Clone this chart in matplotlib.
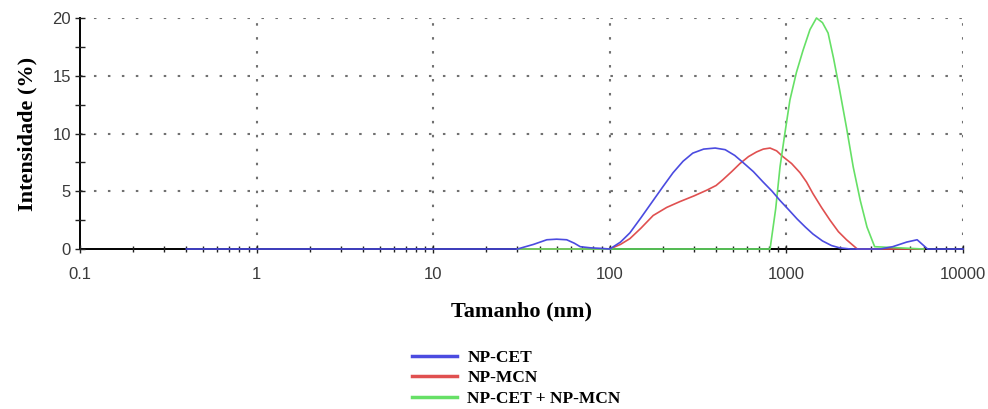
import matplotlib
matplotlib.use("Agg")
import matplotlib.pyplot as plt
from matplotlib.ticker import FixedLocator, FixedFormatter, NullFormatter
from matplotlib.lines import Line2D

# ---- data ----
series_names = ["NP-CET", "NP-MCN", "NP-CET + NP-MCN"]

cet_x = [0.4, 30, 37, 44, 50, 57, 63, 68, 78, 90, 100, 115, 130, 150, 176, 200, 228, 260, 295, 340,
         395, 450, 510, 567, 650, 738, 830, 920, 1030, 1150, 1280, 1413, 1600, 1800, 2000, 2300,
         3400, 4000, 4800, 5500, 6300, 10000]
cet_y = [0, 0, 0.4, 0.8, 0.85, 0.8, 0.5, 0.2, 0.1, 0.05, 0, 0.6, 1.4, 2.7, 4.2, 5.4, 6.6, 7.6, 8.3, 8.65,
         8.74, 8.6, 8.1, 7.5, 6.7, 5.8, 5.0, 4.2, 3.4, 2.6, 1.9, 1.3, 0.7, 0.3, 0.1, 0,
         0, 0.2, 0.6, 0.8, 0, 0]

mcn_x = [30, 100, 115, 130, 150, 176, 210, 249, 300, 355, 400, 437, 490, 546, 610, 677, 740, 808,
         880, 955, 1070, 1195, 1300, 1413, 1580, 1765, 1970, 2190, 2520, 6000]
mcn_y = [0, 0, 0.4, 0.9, 1.8, 2.9, 3.6, 4.1, 4.6, 5.1, 5.5, 6.0, 6.7, 7.4, 8.0, 8.4, 8.65, 8.74,
         8.5, 8.0, 7.4, 6.6, 5.8, 4.8, 3.6, 2.5, 1.5, 0.8, 0, 0]

mix_x = [30, 100, 808, 870, 920, 980, 1047, 1140, 1242, 1360, 1480, 1600, 1722, 1850, 2000, 2190,
         2390, 2620, 2860, 3160, 6000]
mix_y = [0, 0, 0, 3.5, 7.1, 10.0, 12.9, 15.3, 17.2, 19.0, 20.0, 19.6, 18.7, 16.5, 13.8, 10.5,
         7.1, 4.2, 1.9, 0.2, 0]

x_major = [0.1, 1, 10, 100, 1000, 10000]
x_labels = ["0.1", "1", "10", "100", "1000", "10000"]
y_major = [0, 5, 10, 15, 20]
y_minor = [2.5, 7.5, 12.5, 17.5]

colors = ["#4b4be0", "#e05050", "#66e066"]

# ---- figure ----
fig = plt.figure(figsize=(9.88, 4.09), dpi=100)
ax = fig.add_axes([80/988, 1-249/409, (963-80)/988, (249-18)/409])

ax.set_xscale("log")
ax.set_xlim(0.1, 10000)
ax.set_ylim(0, 20)

# grid
grid_style = dict(color="#707070", lw=1.5, ls=(0, (1.2, 5.5)), zorder=0.5)
for xv in x_major[1:]:
    ax.axvline(xv, **grid_style)
for yv in y_major[1:]:
    ax.axhline(yv, **grid_style)

ax.plot(mcn_x, mcn_y, color=colors[1], lw=1.2, zorder=3, clip_on=False)
ax.plot(mix_x, mix_y, color=colors[2], lw=1.2, zorder=3.1, clip_on=False)
ax.plot(cet_x, cet_y, color=colors[0], lw=1.2, zorder=3.2, clip_on=False)

for s in ["top", "right"]:
    ax.spines[s].set_visible(False)
ax.spines["left"].set_linewidth(1.4)
ax.spines["bottom"].set_linewidth(1.4)
ax.spines["bottom"].set_zorder(1)

ax.xaxis.set_major_locator(FixedLocator(x_major))
ax.xaxis.set_major_formatter(FixedFormatter(x_labels))
minors = [m * 10.0**e for e in range(-1, 4) for m in range(2, 10)]
ax.xaxis.set_minor_locator(FixedLocator(minors))
ax.xaxis.set_minor_formatter(NullFormatter())
ax.yaxis.set_major_locator(FixedLocator(y_major))
ax.yaxis.set_minor_locator(FixedLocator(y_minor))

ax.tick_params(which="both", direction="inout", color="#222222", width=1.0, zorder=4)
ax.tick_params(axis="x", which="major", length=6, pad=10, labelsize=12, labelcolor="#3a3a3a")
ax.tick_params(axis="x", which="minor", length=5)
ax.tick_params(axis="y", which="major", length=7, pad=3, labelsize=12, labelcolor="#3a3a3a")
ax.tick_params(axis="y", which="minor", length=7)
for lab in ax.get_xticklabels() + ax.get_yticklabels():
    lab.set_fontfamily("Liberation Sans")
ax.set_axisbelow(False)

ax.set_xlabel("Tamanho (nm)", family="Liberation Serif", fontweight="bold", fontsize=16, labelpad=14)
ax.set_ylabel("Intensidade (%)", family="Liberation Serif", fontweight="bold", fontsize=16, labelpad=11)

handles = [Line2D([], [], color=c, lw=2.5) for c in colors]
fig.legend(handles, series_names, loc="upper left", bbox_to_anchor=(403/988, 1-341/409),
           frameon=False, borderpad=0, handlelength=2.6, handletextpad=0.6, labelspacing=0.26,
           prop={"family": "Liberation Serif", "weight": "bold", "size": 12.5})

fig.savefig("out.png", dpi=100)
